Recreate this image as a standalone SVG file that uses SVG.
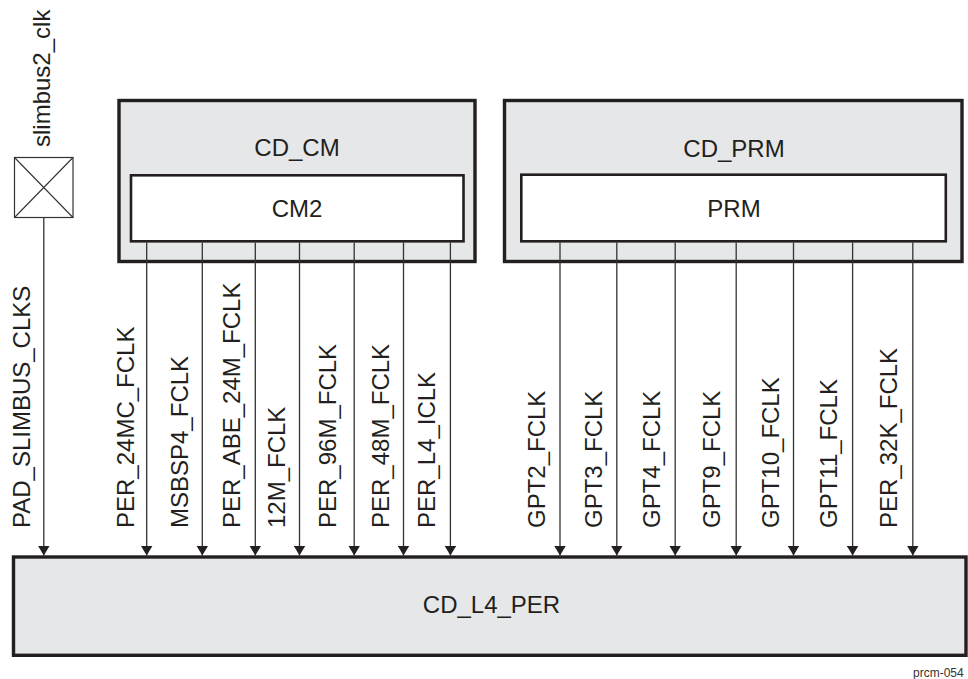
<svg xmlns="http://www.w3.org/2000/svg" width="968" height="679" viewBox="0 0 968 679">
<style>
text{font-family:"Liberation Sans",Arial,sans-serif;fill:#231f20}
.lbl{font-size:24px}
.box{fill:#e6e7e8;stroke:#231f20;stroke-width:3.4}
.inner{fill:#ffffff;stroke:#231f20;stroke-width:2.6}
.sig{stroke:#333;stroke-width:1.3;fill:none;marker-end:url(#arr)}
.ctr{text-anchor:middle}
</style>
<defs>
<marker id="arr" viewBox="0 0 10 12" refX="10" refY="6" markerWidth="10" markerHeight="12" markerUnits="userSpaceOnUse" orient="auto">
<path d="M0,0 L10,6 L0,12 z" fill="#231f20"/>
</marker>
</defs>
<rect width="968" height="679" fill="#ffffff"/>

<g id="pad">
<rect x="14.5" y="157.5" width="58.5" height="60" fill="#fff" stroke="#333" stroke-width="1.2"/>
<path d="M14.5,157.5 L73,217.5 M73,157.5 L14.5,217.5" stroke="#333" stroke-width="1.1"/>
<text class="lbl" transform="translate(50,147) rotate(-90)">slimbus2_clk</text>
</g>

<g id="cd_cm">
<rect class="box" x="119" y="100.5" width="356" height="161"/>
<text class="lbl ctr" x="297" y="156">CD_CM</text>
</g>
<g id="cm2">
<rect class="inner" x="131" y="175.3" width="332.5" height="66"/>
<text class="lbl ctr" x="297" y="217">CM2</text>
</g>

<g id="cd_prm">
<rect class="box" x="504.5" y="100.5" width="457.5" height="161"/>
<text class="lbl ctr" x="734" y="156.5">CD_PRM</text>
</g>
<g id="prm">
<rect class="inner" x="521.3" y="174.7" width="424.5" height="66.6"/>
<text class="lbl ctr" x="734" y="217.3">PRM</text>
</g>

<g id="cd_l4_per">
<rect class="box" x="13.5" y="557" width="952.5" height="98.3"/>
<text class="lbl ctr" x="491.5" y="613">CD_L4_PER</text>
</g>

<g id="connectors">
<line class="sig" x1="43.8" y1="218" x2="43.8" y2="555.5"/>
<line class="sig" x1="146.7" y1="242.6" x2="146.7" y2="555.5"/>
<line class="sig" x1="202.3" y1="242.6" x2="202.3" y2="555.5"/>
<line class="sig" x1="255.3" y1="242.6" x2="255.3" y2="555.5"/>
<line class="sig" x1="299.5" y1="242.6" x2="299.5" y2="555.5"/>
<line class="sig" x1="354.2" y1="242.6" x2="354.2" y2="555.5"/>
<line class="sig" x1="403.5" y1="242.6" x2="403.5" y2="555.5"/>
<line class="sig" x1="450.4" y1="242.6" x2="450.4" y2="555.5"/>
<line class="sig" x1="560" y1="242.6" x2="560" y2="555.5"/>
<line class="sig" x1="616.8" y1="242.6" x2="616.8" y2="555.5"/>
<line class="sig" x1="675.2" y1="242.6" x2="675.2" y2="555.5"/>
<line class="sig" x1="736.2" y1="242.6" x2="736.2" y2="555.5"/>
<line class="sig" x1="793.5" y1="242.6" x2="793.5" y2="555.5"/>
<line class="sig" x1="852.6" y1="242.6" x2="852.6" y2="555.5"/>
<line class="sig" x1="912.8" y1="242.6" x2="912.8" y2="555.5"/>
</g>

<g id="labels">
<text class="lbl" transform="translate(30,528) rotate(-90)">PAD_SLIMBUS_CLKS</text>
<text class="lbl" transform="translate(133.7,528) rotate(-90)">PER_24MC_FCLK</text>
<text class="lbl" transform="translate(187.5,528) rotate(-90)">MSBSP4_FCLK</text>
<text class="lbl" transform="translate(240.3,528) rotate(-90)">PER_ABE_24M_FCLK</text>
<text class="lbl" transform="translate(285,528) rotate(-90)">12M_FCLK</text>
<text class="lbl" transform="translate(335.5,528) rotate(-90)">PER_96M_FCLK</text>
<text class="lbl" transform="translate(388.7,528) rotate(-90)">PER_48M_FCLK</text>
<text class="lbl" transform="translate(435,528) rotate(-90)">PER_L4_ICLK</text>
<text class="lbl" transform="translate(545.3,528) rotate(-90)">GPT2_FCLK</text>
<text class="lbl" transform="translate(602,528) rotate(-90)">GPT3_FCLK</text>
<text class="lbl" transform="translate(660,528) rotate(-90)">GPT4_FCLK</text>
<text class="lbl" transform="translate(720,528) rotate(-90)">GPT9_FCLK</text>
<text class="lbl" transform="translate(778.7,528) rotate(-90)">GPT10_FCLK</text>
<text class="lbl" transform="translate(837,528) rotate(-90)">GPT11_FCLK</text>
<text class="lbl" transform="translate(897,528) rotate(-90)">PER_32K_FCLK</text>
</g>

<text x="913" y="677" font-size="12" style="fill:#333">prcm-054</text>
</svg>
